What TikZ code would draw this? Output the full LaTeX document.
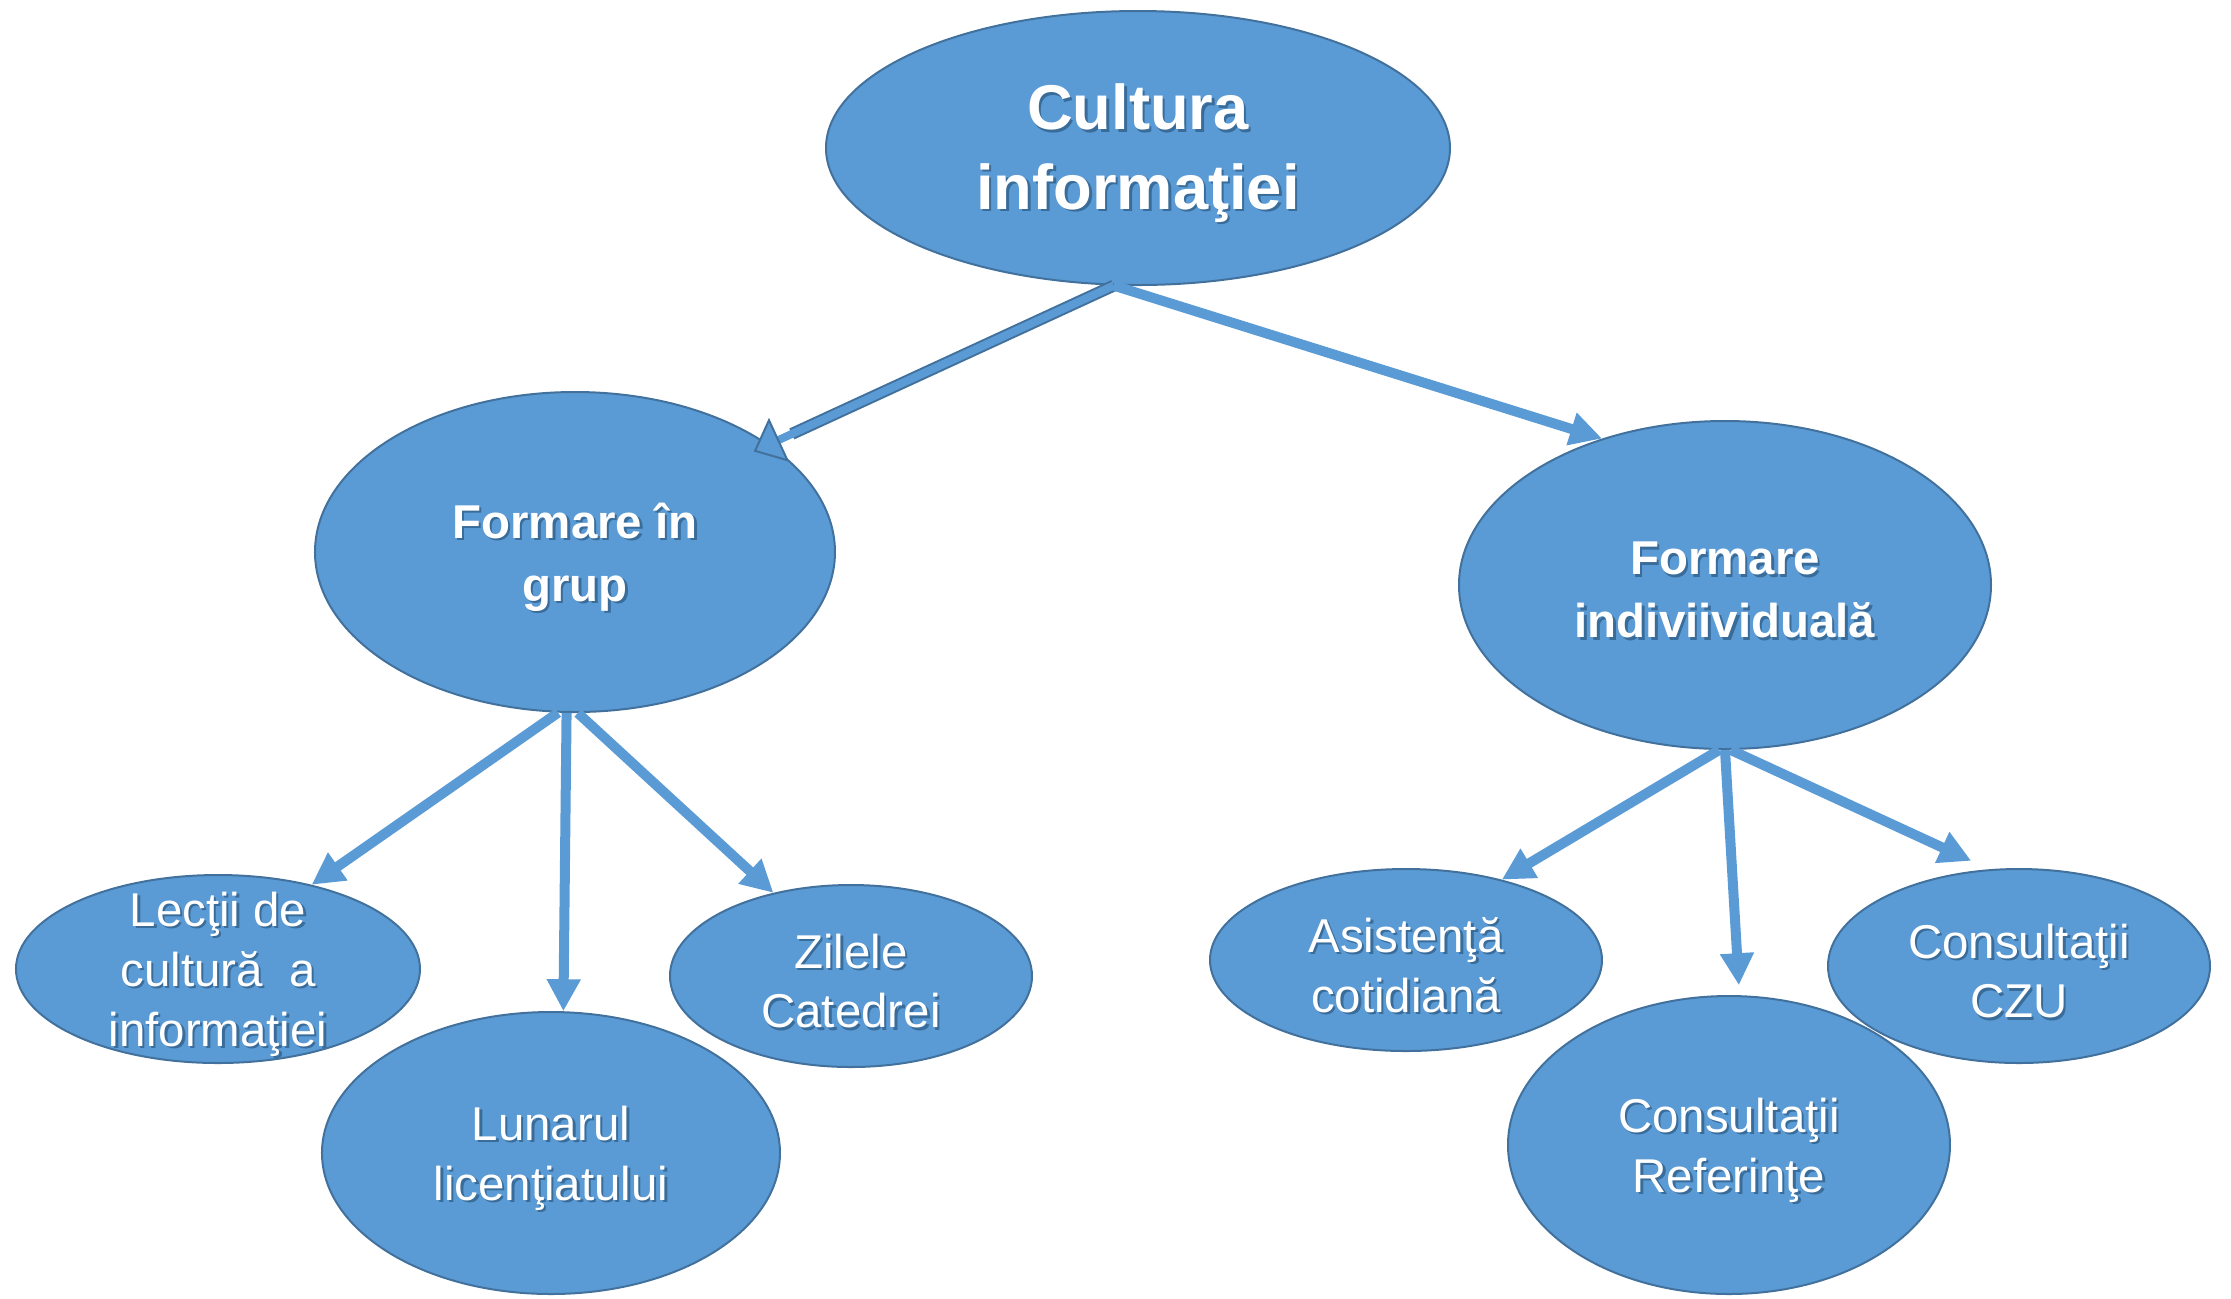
\documentclass[tikz,border=0pt]{standalone}
\usepackage{fontspec}
\setmainfont{Liberation Sans}
\usepackage{tikz}
\usetikzlibrary{shapes.geometric, arrows.meta, positioning}
\definecolor{mainblue}{HTML}{5B9BD5}
\definecolor{edgeblue}{HTML}{41719C}
\definecolor{shadowblue}{HTML}{3A6C9A}
\newcommand{\shd}[1]{\raisebox{-1.8pt}[\height][\depth]{\makebox[0pt][l]{\raisebox{-0.7pt}{\hspace{0.7pt}\textcolor{shadowblue}{#1}}}#1}}
\tikzstyle{bubble} = [ellipse, draw=edgeblue, line width=0.02cm, fill=mainblue, text=white, align=center, inner xsep=0pt, inner ysep=-2.5mm]
\tikzstyle{topbubble} = [bubble, font=\fontsize{18}{22.5}\selectfont\bfseries]
\tikzstyle{midbubble} = [bubble, font=\fontsize{13.5}{18}\selectfont\bfseries]
\tikzstyle{leaf} = [bubble, font=\fontsize{13.5}{17}\selectfont]
\tikzstyle{arrow} = [draw=mainblue, line width=0.1cm, -{Triangle[length=0.32cm, width=0.32cm]}]
\tikzstyle{outlined} = [draw=mainblue, line width=0.08cm, -{Triangle[length=0.28cm, width=0.48cm, fill=mainblue, color=edgeblue, line width=0.02cm]}, preaction={draw=edgeblue, line width=0.12cm, -, shorten >=0.25cm}]
\begin{document}
\begin{tikzpicture}[node distance = 2cm, auto]
        \useasboundingbox (-11.38,1.48) rectangle (10.93,-11.50);

        \node (root) [topbubble, minimum width=6.24cm, minimum height=2.74cm] {\shd{Cultura}\\\shd{informaţiei}};
        \node (grup) [midbubble, below of=root, xshift=-5.63cm, yshift=-2.04cm, minimum width=5.2cm, minimum height=3.2cm] {\shd{Formare în}\\\shd{grup}};
        \node (indiv) [midbubble, below of=root, xshift=5.87cm, yshift=-2.37cm, minimum width=5.32cm, minimum height=3.28cm] {\shd{Formare}\\\shd{indiviividuală}};

        \node (lectii) [leaf, below of=grup, xshift=-3.57cm, yshift=-2.17cm, minimum width=4.04cm, minimum height=1.88cm] {\shd{Lecţii de}\\\shd{cultură\ \ a}\\\shd{informaţiei}};
        \node (lunar) [leaf, below of=grup, xshift=-0.24cm, yshift=-4.01cm, minimum width=4.58cm, minimum height=2.82cm] {\shd{Lunarul}\\\shd{licenţiatului}};
        \node (zilele) [leaf, below of=grup, xshift=2.76cm, yshift=-2.24cm, minimum width=3.62cm, minimum height=1.82cm] {\shd{Zilele}\\\shd{Catedrei}};

        \node (asist) [leaf, below of=indiv, xshift=-3.19cm, yshift=-1.75cm, minimum width=3.92cm, minimum height=1.82cm] {\shd{Asistenţă}\\\shd{cotidiană}};
        \node (ref) [leaf, below of=indiv, xshift=0.04cm, yshift=-3.60cm, minimum width=4.42cm, minimum height=2.98cm] {\shd{Consultaţii}\\\shd{Referinţe}};
        \node (czu) [leaf, below of=indiv, xshift=2.94cm, yshift=-1.81cm, minimum width=3.82cm, minimum height=1.94cm] {\shd{Consultaţii}\\\shd{CZU}};

        % Draw edges
        \path [outlined, shorten >=-0.17cm] (root.260) -- (grup.29);
        \path [arrow] (root.260) -- (indiv.130);
        \path [arrow] (grup.264) -- (lectii.42);
        \path [arrow] (grup.267) -- (lunar.85);
        \path [arrow] (grup.271) -- (zilele.133);
        \path [arrow] (indiv.268) -- (asist.40);
        \path [arrow, shorten >=0.1cm] (indiv.270) -- (ref.86);
        \path [arrow, shorten >=0.2cm] (indiv.272) -- (czu.107);

\end{tikzpicture}
\end{document}
